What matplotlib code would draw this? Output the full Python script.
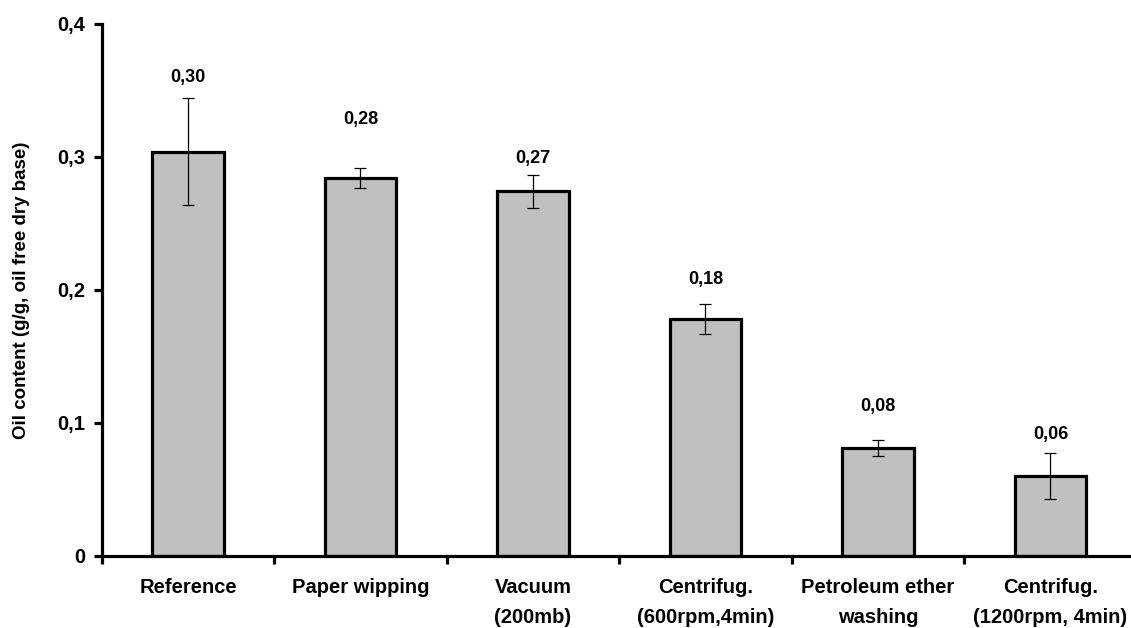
import matplotlib
matplotlib.use("Agg")
import matplotlib.pyplot as plt
import numpy as np

categories = ["Reference", "Paper wipping", "Vacuum\n(200mb)", "Centrifug.\n(600rpm,4min)",
              "Petroleum ether\nwashing", "Centrifug.\n(1200rpm, 4min)"]
values = [0.304, 0.284, 0.274, 0.178, 0.081, 0.060]
errors = [0.040, 0.0077, 0.0123, 0.011, 0.0058, 0.017]
value_labels = ["0,30", "0,28", "0,27", "0,18", "0,08", "0,06"]
yticks = [0, 0.1, 0.2, 0.3, 0.4]
ytick_labels = ["0", "0,1", "0,2", "0,3", "0,4"]

# vertical placement of the value labels above the bar tops (data units)
label_offsets = [0.056, 0.044, 0.025, 0.030, 0.031, 0.031]

plt.rcParams['font.family'] = ['Liberation Sans', 'DejaVu Sans']
plt.rcParams['font.weight'] = 'bold'

fig = plt.figure(figsize=(11.31, 6.28), dpi=100)
W, H = 1131, 628
x0, x1 = 101.7, 101.7 + 6 * 172.5
y0, y1 = 555.7, 24
ax = fig.add_axes([x0 / W, 1 - y0 / H, (x1 - x0) / W, (y0 - y1) / H])

x = np.arange(len(categories))
ax.bar(x, values, width=0.415, color="#C0C0C0", edgecolor="black", linewidth=2.3, zorder=2)
ax.errorbar(x, values, yerr=errors, fmt="none", ecolor="black", elinewidth=0.9,
            capsize=4.3, capthick=0.9, zorder=3)
for xi, v, off, lab in zip(x, values, label_offsets, value_labels):
    ax.text(xi, v + off, lab, ha="center", va="center", fontsize=13, fontweight="bold")

ax.set_xlim(-0.5, len(categories) - 0.5)
ax.set_ylim(0, 0.4)
ax.set_yticks(yticks)
ax.set_yticklabels(ytick_labels, fontsize=14.5, fontweight="bold")
ax.set_xticks(np.arange(len(categories) + 1) - 0.5)
ax.set_xticklabels([])
ax.set_xticks(x, minor=True)
ax.set_xticklabels(categories, minor=True, fontsize=14.5, fontweight="bold", linespacing=1.75)
ax.tick_params(axis="x", which="minor", length=0, pad=16)
ax.tick_params(axis="x", which="major", length=6, width=2.3, direction="out")
ax.tick_params(axis="y", length=6, width=2.3, direction="out", pad=6)

for s in ["top", "right"]:
    ax.spines[s].set_visible(False)
for s in ["left", "bottom"]:
    ax.spines[s].set_linewidth(2.3)

fig.text(22 / W, 1 - 290 / H, "Oil content (g/g, oil free dry base)", rotation=90,
         ha="center", va="center", fontsize=13.5, fontweight="bold")

fig.savefig("out.png", dpi=100)
